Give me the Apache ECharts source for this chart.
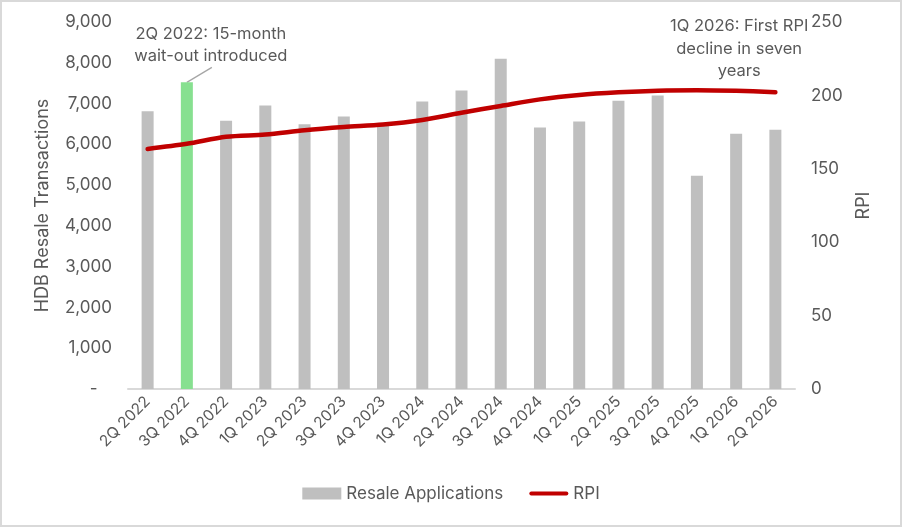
<!DOCTYPE html>
<html>
<head>
<meta charset="utf-8">
<script src="https://cdn.jsdelivr.net/npm/echarts@6/dist/echarts.min.js"></script>
<style>
html, body { margin: 0; padding: 0; background: #fff; }
#chart { width: 898px; height: 523px; border: 2px solid #d9d9d9; }
</style>
</head>
<body>
<div id="chart"></div>
<script>
var quarters = ["2Q 2022", "3Q 2022", "4Q 2022", "1Q 2023", "2Q 2023", "3Q 2023", "4Q 2023", "1Q 2024",
	"2Q 2024", "3Q 2024", "4Q 2024", "1Q 2025", "2Q 2025", "3Q 2025", "4Q 2025", "1Q 2026", "2Q 2026"];
var resaleApps = [6810, 7520, 6580, 6950, 6490, 6680, 6500, 7050, 7320, 8100, 6410, 6560, 7070, 7200, 5230, 6260, 6360];
var rpi = [163.5, 167, 171.8, 173.3, 176.3, 178.5, 180.2, 183.3, 188.2, 192.8, 197.3, 200.3, 202.1, 203.2, 203.5, 203.1, 202.2];
var highlightIdx = 1;

var FONT = "Inter, 'Noto Sans', sans-serif";
var TXT = "#595959";

var chart = echarts.init(document.getElementById("chart"));

var barData = resaleApps.map(function(v, i){
	if (i === highlightIdx) return {value: v, itemStyle: {color: "#87e090"}};
	return v;
});

chart.setOption({
	animation: false,
	textStyle: {fontFamily: FONT},
	grid: {left: 126, right: 105, top: 20, bottom: 136},
	legend: {
		bottom: 18,
		left: "center",
		itemGap: 26,
		itemWidth: 39,
		itemHeight: 12,
		textStyle: {color: TXT, fontSize: 17, fontFamily: FONT},
		data: [
			{name: "Resale Applications", icon: "rect"},
			{name: "RPI", icon: "path://M2,0 L38,0 A2,2 0 0 1 38,4 L2,4 A2,2 0 0 1 2,0 Z"}
		]
	},
	xAxis: {
		type: "category",
		data: quarters,
		axisLine: {lineStyle: {color: "#d9d9d9", width: 2}},
		axisTick: {show: false},
		axisLabel: {rotate: 45, color: TXT, fontSize: 15.5, margin: 10, interval: 0}
	},
	yAxis: [{
		type: "value",
		min: 0, max: 9000, interval: 1000,
		name: "HDB Resale Transactions",
		nameLocation: "middle",
		nameGap: 76,
		nameTextStyle: {color: TXT, fontSize: 18},
		splitLine: {show: false},
		axisLine: {show: false},
		axisLabel: {
			color: TXT, fontSize: 17, margin: 16,
			formatter: function(v){ return v === 0 ? "-   " : v.toLocaleString("en-US"); }
		}
	}, {
		type: "value",
		min: 0, max: 250, interval: 50,
		name: "RPI",
		nameLocation: "middle",
		nameGap: 60,
		nameRotate: 90,
		nameTextStyle: {color: TXT, fontSize: 18},
		splitLine: {show: false},
		axisLine: {show: false},
		axisLabel: {color: TXT, fontSize: 17, margin: 16}
	}],
	series: [{
		name: "Resale Applications",
		type: "bar",
		barWidth: 12,
		itemStyle: {color: "#bfbfbf"},
		data: barData
	}, {
		name: "RPI",
		type: "line",
		yAxisIndex: 1,
		smooth: 0.3,
		symbol: "none",
		lineStyle: {color: "#c00000", width: 4.5, cap: "round"},
		itemStyle: {color: "#c00000"},
		data: rpi
	}]
});

// annotations placed relative to the axes
function addNotes(){
	var hi = chart.convertToPixel({xAxisIndex: 0, yAxisIndex: 0}, [highlightIdx, resaleApps[highlightIdx]]);
	var last = chart.convertToPixel({xAxisIndex: 0, yAxisIndex: 1}, [quarters.length - 2, 250]);
	chart.setOption({graphic: [{
		type: "text",
		x: hi[0] + 24, y: 21,
		style: {
			text: "2Q 2022: 15-month\nwait-out introduced",
			fill: TXT, font: "16.5px " + FONT, lineHeight: 22, align: "center"
		}
	}, {
		type: "line",
		shape: {x1: hi[0] + 25, y1: hi[1] - 15, x2: hi[0], y2: hi[1]},
		style: {stroke: "#a6a6a6", lineWidth: 1.3}
	}, {
		type: "text",
		x: last[0] + 3, y: 13,
		style: {
			text: "1Q 2026: First RPI\ndecline in seven\nyears",
			fill: TXT, font: "16.5px " + FONT, lineHeight: 22.5, align: "center"
		}
	}]});
}
addNotes();
</script>
</body>
</html>
